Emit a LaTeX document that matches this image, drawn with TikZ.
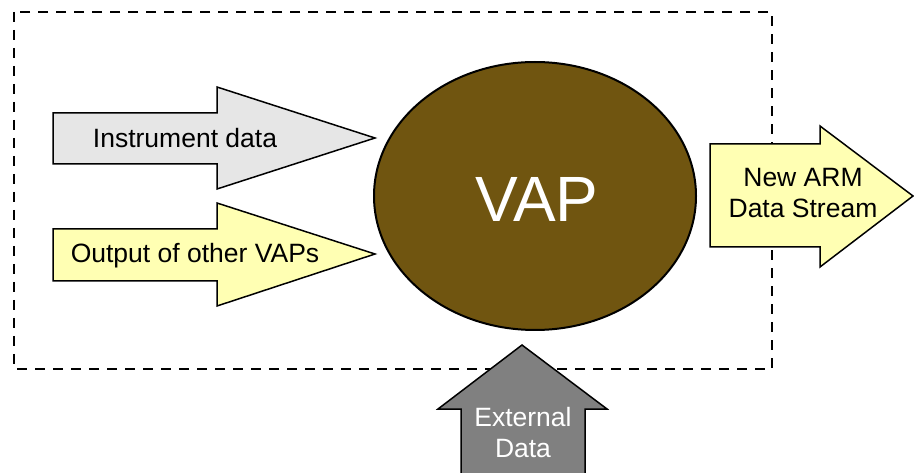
\documentclass[tikz,border=0pt]{standalone}
\usepackage{fontspec}
\setmainfont{Liberation Sans}
\usetikzlibrary{shapes.geometric}
\definecolor{vapbrown}{RGB}{112,85,16}
\definecolor{lightyel}{RGB}{255,255,179}
\definecolor{lightgry}{RGB}{230,230,230}
\definecolor{midgry}{RGB}{128,128,128}
\begin{document}
\begin{tikzpicture}[x=1pt,y=-1pt,
  blockarrow/.style={draw=black,line width=1.5pt,line join=miter},
  lbl/.style={font=\fontsize{26.5}{31}\selectfont,align=center,inner sep=0pt}]
\useasboundingbox (0,0) rectangle (914,473);
% dashed frame
\draw[line width=2pt,dash pattern=on 10pt off 8pt] (14,12) rectangle (772,369);
% ellipse
\node[ellipse,draw=black,line width=2pt,fill=vapbrown,minimum width=322pt,minimum height=268pt,
  inner sep=0pt,text=white,font=\fontsize{64}{70}\selectfont] (vap) at (535,196) {};
\node[text=white,font=\fontsize{64}{70}\selectfont,inner sep=0pt] (vaptext) at (537,199) {VAP};
% instrument data arrow
\draw[blockarrow,fill=lightgry] (53,113) -- (217,113) -- (217,87) -- (375,138) -- (217,189) -- (217,164) -- (53,164) -- cycle;
\node[lbl] (instr) at (185,138) {Instrument data};
% output of other VAPs arrow
\draw[blockarrow,fill=lightyel] (53,229) -- (217,229) -- (217,203) -- (375,254) -- (217,306) -- (217,281) -- (53,281) -- cycle;
\node[lbl] (other) at (195,256) {Output of other VAPs};
% new ARM data stream arrow
\draw[blockarrow,fill=lightyel] (710,144) -- (820,144) -- (820,126) -- (913,196) -- (820,267) -- (820,247) -- (710,247) -- cycle;
\node[lbl] (newarm) at (803,193) {New ARM\\Data Stream};
% external data arrow
\draw[blockarrow,fill=midgry] (461,474) -- (461,409) -- (438,409) -- (522,345) -- (607,409) -- (585,409) -- (585,474) -- cycle;
\node[lbl,text=white] (ext) at (523,433) {External\\Data};
\end{tikzpicture}
\end{document}
